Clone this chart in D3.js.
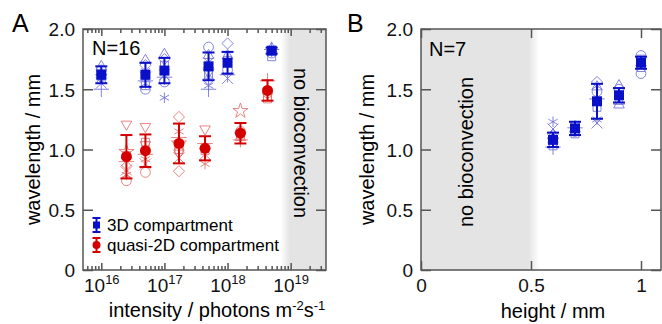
<!DOCTYPE html>
<html><head><meta charset="utf-8">
<script src="https://cdn.jsdelivr.net/npm/d3@7"></script>
<style>
html,body{margin:0;padding:0;background:#fff;}
svg{display:block;font-family:"Liberation Sans",Arial,sans-serif;}
</style></head>
<body><svg id="c" width="662" height="324"></svg>
<script>
// ---------------- DATA ----------------
const yTicks = [0, 0.5, 1.0, 1.5, 2.0];
const yTickLabels = ["0", "0.5", "1.0", "1.5", "2.0"];
const xTicksA = [1e16, 1e17, 1e18, 1e19];
const xTickExpA = ["16", "17", "18", "19"];
const xTicksB = [0, 0.5, 1];
const xTickLabelsB = ["0", "0.5", "1"];
const seriesNames = ["3D compartment", "quasi-2D compartment"];

// Panel A: 3D compartment (blue)
const blueX = [1e16, 5e16, 1e17, 5e17, 1e18, 5e18];
const blueMean = [1.62, 1.62, 1.655, 1.69, 1.72, 1.82];
const blueSD = [0.07, 0.10, 0.105, 0.115, 0.09, 0.025];
const blueIndiv = [
  [[1.69,"tri"],[1.66,"circ"],[1.64,"ast"],[1.58,"sq"],[1.62,"dia"],[1.50,"plus"],[1.55,"x"],[1.60,"trid"]],
  [[1.74,"tri"],[1.70,"dia"],[1.50,"circ"],[1.53,"sq"],[1.57,"plus"],[1.65,"ast"],[1.60,"x"]],
  [[1.79,"tri"],[1.75,"dia"],[1.56,"circ"],[1.43,"ast"],[1.60,"plus"],[1.70,"sq"],[1.62,"x"]],
  [[1.85,"circ"],[1.78,"tri"],[1.50,"plus"],[1.53,"ast"],[1.58,"dia"],[1.62,"sq"],[1.72,"x"],[1.64,"trid"]],
  [[1.88,"dia"],[1.59,"x"],[1.78,"tri"],[1.66,"circ"],[1.74,"sq"],[1.62,"plus"]],
  [[1.84,"tri"],[1.77,"sq"],[1.80,"circ"],[1.83,"plus"]]
];
// Panel A: quasi-2D compartment (red)
const redX = [2.5e16, 5e16, 1.7e17, 4.4e17, 1.6e18, 4.3e18];
const redMean = [0.94, 0.99, 1.05, 1.01, 1.135, 1.49];
const redSD = [0.18, 0.135, 0.165, 0.10, 0.085, 0.085];
const redIndiv = [
  [[1.21,"trid"],[0.74,"circ"],[0.79,"ast"],[0.83,"x"],[0.90,"plus"],[0.86,"dia"],[0.95,"sq"],[0.98,"star"]],
  [[1.19,"trid"],[0.81,"circ"],[1.04,"trid"],[0.92,"ast"],[0.96,"plus"],[1.06,"sq"],[0.88,"x"]],
  [[1.27,"dia"],[0.82,"dia"],[1.15,"ast"],[0.97,"trid"],[1.10,"plus"],[1.05,"star"],[0.93,"x"],[1.00,"sq"]],
  [[1.17,"trid"],[0.88,"ast"],[1.05,"plus"],[0.96,"x"],[0.99,"sq"]],
  [[1.32,"star"],[1.10,"tri"],[1.15,"circ"],[1.12,"sq"],[1.08,"plus"],[1.14,"dia"]],
  [[1.57,"plus"],[1.42,"sq"],[1.44,"sq"],[1.47,"circ"]]
];
// Panel B
const heightX = [0.6, 0.7, 0.8, 0.9, 1.0];
const heightMean = [1.08, 1.175, 1.40, 1.45, 1.72];
const heightSD = [0.06, 0.055, 0.145, 0.06, 0.05];
const heightIndiv = [
  [[1.23,"ast"],[1.17,"x"],[1.03,"sq"],[1.06,"circ"],[1.12,"tri"],[1.02,"plus"],[1.09,"dia"]],
  [[1.13,"sq"],[1.20,"sq"],[1.15,"circ"],[1.17,"tri"],[1.18,"plus"]],
  [[1.56,"dia"],[1.52,"tri"],[1.48,"circ"],[1.22,"x"],[1.25,"ast"],[1.35,"sq"],[1.42,"plus"]],
  [[1.53,"tri"],[1.37,"tri"],[1.40,"tri"],[1.45,"sq"],[1.50,"circ"]],
  [[1.78,"circ"],[1.63,"circ"],[1.75,"sq"],[1.68,"sq"],[1.72,"tri"]]
];
const noBioA = 8e18;   // intensity above which no bioconvection
const noBioB = 0.52;   // height below which no bioconvection

// ---------------- STYLE ----------------
const C = {frame:"#555", blue:"#0a0fc8", red:"#d40000", lblue:"#6f6fdc", lred:"#e07070", gray:"#e4e4e4"};
const svg = d3.select("#c");
const defs = svg.append("defs");

const yS = d3.scaleLinear().domain([0, 2]).range([270, 29]);
const xA = d3.scaleLog().domain([Math.pow(10,15.71), Math.pow(10,19.56)]).range([83, 326]);
const xB = d3.scaleLinear().domain([0, 240/220]).range([421, 661]);

const symMap = {
  circ: d3.symbolCircle, tri: d3.symbolTriangle2, trid: d3.symbolTriangle2, dia: d3.symbolDiamond2,
  sq: d3.symbolSquare2, plus: d3.symbolPlus, x: d3.symbolX, ast: d3.symbolAsterisk, star: d3.symbolStar
};
function sym(s){ return d3.symbol().type(symMap[s]).size(s==="star"?70:(s==="circ"?75:80))(); }

function panel(g, xs, ticksX, labelFn, gradSpec){
  // gray region
  const gid = gradSpec.id;
  const grad = defs.append("linearGradient").attr("id", gid)
    .attr("gradientUnits","userSpaceOnUse").attr("x1", gradSpec.x1).attr("x2", gradSpec.x2).attr("y1",0).attr("y2",0);
  grad.append("stop").attr("offset",0).attr("stop-color", gradSpec.c1);
  grad.append("stop").attr("offset",1).attr("stop-color", gradSpec.c2);
  g.append("rect").attr("x", gradSpec.rx0).attr("width", gradSpec.rx1-gradSpec.rx0)
    .attr("y", yS(2)).attr("height", yS(0)-yS(2)).attr("fill", `url(#${gid})`);
}

function styleAxis(sel){
  sel.select(".domain").remove();
  sel.selectAll("line").attr("stroke", C.frame).attr("stroke-width", 1.5);
  sel.selectAll("text").attr("fill", "#111").style("font-size","19px").style("font-family",'"Liberation Sans",Arial,sans-serif');
}

function yAxes(x0, x1){
  const gl = svg.append("g").attr("transform", `translate(${x0},0)`)
    .call(d3.axisLeft(yS).tickValues(yTicks).tickSize(-10).tickPadding(8).tickFormat((d,i)=>yTickLabels[i]));
  styleAxis(gl);
  gl.selectAll("text").attr("dy","0.36em");
  const gr = svg.append("g").attr("transform", `translate(${x1},0)`)
    .call(d3.axisRight(yS).tickValues(yTicks).tickSize(-10).tickFormat(""));
  styleAxis(gr);
}

function markers(g, xs, xv, mean, sd, indiv, light, dark, mshape){
  // individual light markers
  xv.forEach((xx, i) => {
    indiv[i].forEach(([v, s]) => {
      g.append("path").attr("d", sym(s))
        .attr("transform", `translate(${xs(xx)},${yS(v)})` + (s==="trid"?" rotate(180)":""))
        .attr("fill", "none").attr("stroke", light).attr("stroke-width", 1).attr("opacity", 0.85);
    });
  });
  // error bars
  xv.forEach((xx, i) => {
    const cx = xs(xx), t = yS(mean[i]+sd[i]), b = yS(mean[i]-sd[i]);
    g.append("line").attr("x1",cx).attr("x2",cx).attr("y1",t).attr("y2",b).attr("stroke",dark).attr("stroke-width",2);
    [t,b].forEach(yy => g.append("line").attr("x1",cx-6).attr("x2",cx+6).attr("y1",yy).attr("y2",yy).attr("stroke",dark).attr("stroke-width",2));
    if (mshape === "sq") {
      g.append("rect").attr("x",cx-5).attr("y",yS(mean[i])-5).attr("width",10).attr("height",10).attr("fill",dark);
    } else {
      g.append("circle").attr("cx",cx).attr("cy",yS(mean[i])).attr("r",5.5).attr("fill",dark);
    }
  });
}

// ================= PANEL A =================
const gA = svg.append("g");
panel(gA, xA, null, null, {id:"gA", x1: xA(noBioA)-4, x2: xA(noBioA)+5, c1:"#fff", c2:C.gray, rx0: xA(noBioA)-4, rx1: 326});

// log axis ticks (major + minor), bottom and top, inward
const minorA = [];
for (let e = 15; e <= 19; e++) for (let m = 2; m <= 9; m++) { const v = m*Math.pow(10,e); if (v > xA.domain()[0] && v < xA.domain()[1]) minorA.push(v); }
const axBA = svg.append("g").attr("transform","translate(0,270)")
  .call(d3.axisBottom(xA).tickValues(xTicksA).tickSize(-7).tickPadding(9).tickFormat(""));
styleAxis(axBA);
axBA.selectAll(".tick").append("text").attr("y", 22).attr("text-anchor","middle").attr("fill","#111")
  .style("font-size","19px")
  .each(function(d,i){
    const t = d3.select(this);
    t.append("tspan").text("10");
    t.append("tspan").attr("dy", -8).style("font-size","13px").text(xTickExpA[i]);
  });
styleAxis(svg.append("g").attr("transform","translate(0,270)").call(d3.axisBottom(xA).tickValues(minorA).tickSize(-4).tickFormat("")));
styleAxis(svg.append("g").attr("transform","translate(0,29)").call(d3.axisTop(xA).tickValues(xTicksA).tickSize(-7).tickFormat("")));
styleAxis(svg.append("g").attr("transform","translate(0,29)").call(d3.axisTop(xA).tickValues(minorA).tickSize(-4).tickFormat("")));
yAxes(83, 326);

markers(gA, xA, blueX, blueMean, blueSD, blueIndiv, C.lblue, C.blue, "sq");
markers(gA, xA, redX, redMean, redSD, redIndiv, C.lred, C.red, "circ");

gA.append("rect").attr("x",83).attr("y",29).attr("width",243).attr("height",241).attr("fill","none").attr("stroke",C.frame).attr("stroke-width",1.5);

// texts A
svg.append("text").attr("x",12).attr("y",32).style("font-size","25px").text("A");
svg.append("text").attr("x",92).attr("y",55).style("font-size","20px").text("N=16");
svg.append("text").attr("transform",`translate(294,${68}) rotate(90)`).style("font-size","20px").text("no bioconvection");
svg.append("text").attr("transform",`translate(40,149.5) rotate(-90)`).attr("text-anchor","middle").style("font-size","20px").text("wavelength / mm");
const xlA = svg.append("text").attr("x",217).attr("y",317).attr("text-anchor","middle").style("font-size","20px");
xlA.append("tspan").text("intensity / photons m");
xlA.append("tspan").attr("dy",-7).style("font-size","13px").text("-2");
xlA.append("tspan").attr("dy",7).text("s");
xlA.append("tspan").attr("dy",-7).style("font-size","13px").text("-1");

// legend
const leg = svg.append("g");
[[C.blue,"sq",225],[C.red,"circ",245]].forEach(([col, s, yy], i) => {
  const cx = 96.5;
  leg.append("line").attr("x1",cx).attr("x2",cx).attr("y1",yy-7).attr("y2",yy+7).attr("stroke",col).attr("stroke-width",2);
  [yy-7, yy+7].forEach(v => leg.append("line").attr("x1",cx-4).attr("x2",cx+4).attr("y1",v).attr("y2",v).attr("stroke",col).attr("stroke-width",2));
  if (s === "sq") leg.append("rect").attr("x",cx-3.5).attr("y",yy-3.5).attr("width",7).attr("height",7).attr("fill",col);
  else leg.append("circle").attr("cx",cx).attr("cy",yy).attr("r",4).attr("fill",col);
  leg.append("text").attr("x",107).attr("y",yy).attr("dy","0.36em").style("font-size","17px").text(seriesNames[i]);
});

// ================= PANEL B =================
const gB = svg.append("g");
panel(gB, xB, null, null, {id:"gB", x1: xB(noBioB)-7, x2: xB(noBioB)+4, c1:C.gray, c2:"#fff", rx0: 421, rx1: xB(noBioB)+4});

const axBB = svg.append("g").attr("transform","translate(0,270)")
  .call(d3.axisBottom(xB).tickValues(xTicksB).tickSize(-9).tickPadding(9).tickFormat((d,i)=>xTickLabelsB[i]));
styleAxis(axBB);
axBB.selectAll("text").attr("y", 22).attr("dy", null);
styleAxis(svg.append("g").attr("transform","translate(0,29)").call(d3.axisTop(xB).tickValues(xTicksB).tickSize(-9).tickFormat("")));
yAxes(421, 661);

markers(gB, xB, heightX, heightMean, heightSD, heightIndiv, C.lblue, C.blue, "sq");

gB.append("rect").attr("x",421).attr("y",29).attr("width",240).attr("height",241).attr("fill","none").attr("stroke",C.frame).attr("stroke-width",1.5);

svg.append("text").attr("x",347).attr("y",32).style("font-size","25px").text("B");
svg.append("text").attr("x",429).attr("y",56).style("font-size","20px").text("N=7");
svg.append("text").attr("transform",`translate(473,227) rotate(-90)`).style("font-size","20px").text("no bioconvection");
svg.append("text").attr("transform",`translate(374,149.5) rotate(-90)`).attr("text-anchor","middle").style("font-size","20px").text("wavelength / mm");
svg.append("text").attr("x",553).attr("y",318).attr("text-anchor","middle").style("font-size","20px").text("height / mm");
</script></body></html>
